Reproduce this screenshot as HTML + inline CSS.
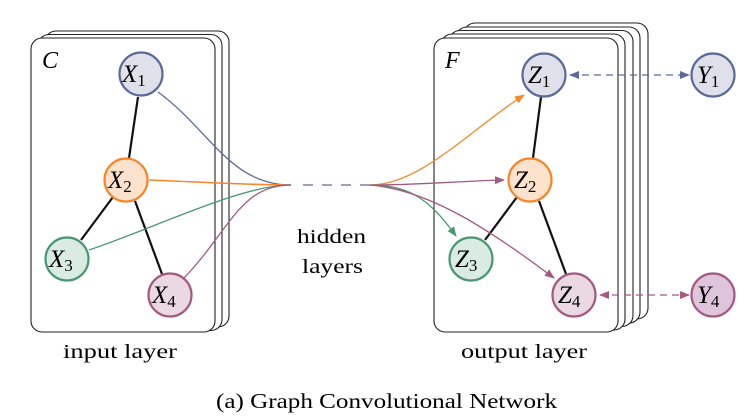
<!DOCTYPE html>
<html><head><meta charset="utf-8"><style>
html,body{margin:0;padding:0;background:#fff;width:750px;height:418px;overflow:hidden}
svg{display:block}
text{font-family:"Liberation Serif",serif}
</style></head><body>
<svg width="750" height="418" viewBox="0 0 750 418" xmlns="http://www.w3.org/2000/svg">
<defs>
<marker id="aO" markerWidth="10" markerHeight="8" refX="9" refY="4" orient="auto" markerUnits="userSpaceOnUse"><path d="M0,0 L10,4 L0,8z" fill="#f5862a"/></marker>
<marker id="aP" markerWidth="10" markerHeight="8" refX="9" refY="4" orient="auto" markerUnits="userSpaceOnUse"><path d="M0,0 L10,4 L0,8z" fill="#a35a82"/></marker>
<marker id="aG" markerWidth="10" markerHeight="8" refX="9" refY="4" orient="auto" markerUnits="userSpaceOnUse"><path d="M0,0 L10,4 L0,8z" fill="#4a9672"/></marker>
<marker id="aB" markerWidth="10" markerHeight="8" refX="9" refY="4" orient="auto-start-reverse" markerUnits="userSpaceOnUse"><path d="M0,0 L10,4 L0,8z" fill="#5c6a99"/></marker>
<marker id="aP2" markerWidth="10" markerHeight="8" refX="9" refY="4" orient="auto-start-reverse" markerUnits="userSpaceOnUse"><path d="M0,0 L10,4 L0,8z" fill="#a35a82"/></marker>
</defs>
<g fill="#fff" stroke="#222" stroke-width="1.1">
<rect x="45" y="31" width="184" height="296" rx="11"/>
<rect x="38" y="34.5" width="184" height="296" rx="11"/>
<rect x="31" y="38" width="184" height="294" rx="11"/>
<rect x="464" y="23" width="184" height="296" rx="11"/>
<rect x="456" y="27" width="184" height="296" rx="11"/>
<rect x="449" y="30.5" width="184" height="296" rx="11"/>
<rect x="441" y="34" width="184" height="296" rx="11"/>
<rect x="434" y="38" width="184" height="294" rx="11"/>
</g>
<text x="42" y="68" font-size="24" font-style="italic">C</text>
<text x="445" y="68" font-size="24" font-style="italic">F</text>
<g stroke="#111" stroke-width="2.2">
<line x1="138" y1="97" x2="129" y2="158"/><line x1="113" y1="197" x2="81" y2="240"/><line x1="135" y1="201" x2="162" y2="274"/>
<line x1="541" y1="97" x2="533" y2="158"/><line x1="517" y1="197" x2="485" y2="240"/><line x1="539" y1="201" x2="566" y2="274"/>
</g>
<g fill="none" stroke-width="1.3">
<path d="M158,92 C210,130 230,185 291,185" stroke="#5c6a99"/>
<path d="M149,180 C200,182 250,185 291,185" stroke="#f5862a" stroke-width="1.6"/>
<path d="M89,250 C150,230 240,185 291,185" stroke="#4a9672"/>
<path d="M184,278 C230,230 240,185 291,185" stroke="#a35a82"/>
<line x1="303" y1="185" x2="370" y2="185" stroke="#5c6a99" stroke-dasharray="10,9"/>
<path d="M370,185 C420,185 470,130 524,95" stroke="#f5862a" marker-end="url(#aO)"/>
<path d="M370,185 C420,185 460,181 504,180" stroke="#a35a82" marker-end="url(#aP)"/>
<path d="M370,185 C410,185 430,200 456,236" stroke="#4a9672" marker-end="url(#aG)"/>
<path d="M370,185 C430,190 490,230 554,278" stroke="#a35a82" marker-end="url(#aP)"/>
<line x1="570" y1="75" x2="689" y2="75" stroke="#5c6a99" stroke-dasharray="7,5" marker-start="url(#aB)" marker-end="url(#aB)"/>
<line x1="600" y1="295" x2="689" y2="295" stroke="#a35a82" stroke-dasharray="7,5" marker-start="url(#aP2)" marker-end="url(#aP2)"/>
</g>
<g stroke-width="2.2">
<circle cx="141" cy="74" r="21.5" fill="#dfe0ea" stroke="#5c6a99"/>
<circle cx="126" cy="180" r="21.5" fill="#fde3cd" stroke="#f5862a"/>
<circle cx="67" cy="259" r="21.5" fill="#d9ebe2" stroke="#4a9672"/>
<circle cx="170" cy="295" r="21.5" fill="#ead9e3" stroke="#a35a82"/>
<circle cx="544" cy="75" r="21.5" fill="#dfe0ea" stroke="#5c6a99"/>
<circle cx="530" cy="180" r="21.5" fill="#fde3cd" stroke="#f5862a"/>
<circle cx="471" cy="259" r="21.5" fill="#d9ebe2" stroke="#4a9672"/>
<circle cx="574" cy="295" r="21.5" fill="#ead9e3" stroke="#a35a82"/>
<circle cx="713" cy="75" r="21.5" fill="#dfe0ea" stroke="#5c6a99"/>
<circle cx="713" cy="295" r="21.5" fill="#dfc5dc" stroke="#a35a82"/>
</g>
<g font-size="25" font-style="italic">
<text x="122" y="82">X<tspan font-size="17" font-style="normal" dy="4">1</tspan></text>
<text x="108" y="188">X<tspan font-size="17" font-style="normal" dy="4">2</tspan></text>
<text x="49" y="267">X<tspan font-size="17" font-style="normal" dy="4">3</tspan></text>
<text x="152" y="303">X<tspan font-size="17" font-style="normal" dy="4">4</tspan></text>
<text x="528" y="83">Z<tspan font-size="17" font-style="normal" dy="4">1</tspan></text>
<text x="514" y="188">Z<tspan font-size="17" font-style="normal" dy="4">2</tspan></text>
<text x="455" y="267">Z<tspan font-size="17" font-style="normal" dy="4">3</tspan></text>
<text x="558" y="303">Z<tspan font-size="17" font-style="normal" dy="4">4</tspan></text>
<text x="697" y="83">Y<tspan font-size="17" font-style="normal" dy="4">1</tspan></text>
<text x="697" y="303">Y<tspan font-size="17" font-style="normal" dy="4">4</tspan></text>
</g>
<g font-size="20">
<text x="297" y="243" textLength="69" lengthAdjust="spacingAndGlyphs">hidden</text>
<text x="302" y="273" textLength="61" lengthAdjust="spacingAndGlyphs">layers</text>
<text x="63" y="358" textLength="114" lengthAdjust="spacingAndGlyphs">input layer</text>
<text x="461" y="358" textLength="126" lengthAdjust="spacingAndGlyphs">output layer</text>
</g>
<text x="216" y="408" font-size="21" textLength="341" lengthAdjust="spacingAndGlyphs">(a) Graph Convolutional Network</text>
</svg>
</body></html>
